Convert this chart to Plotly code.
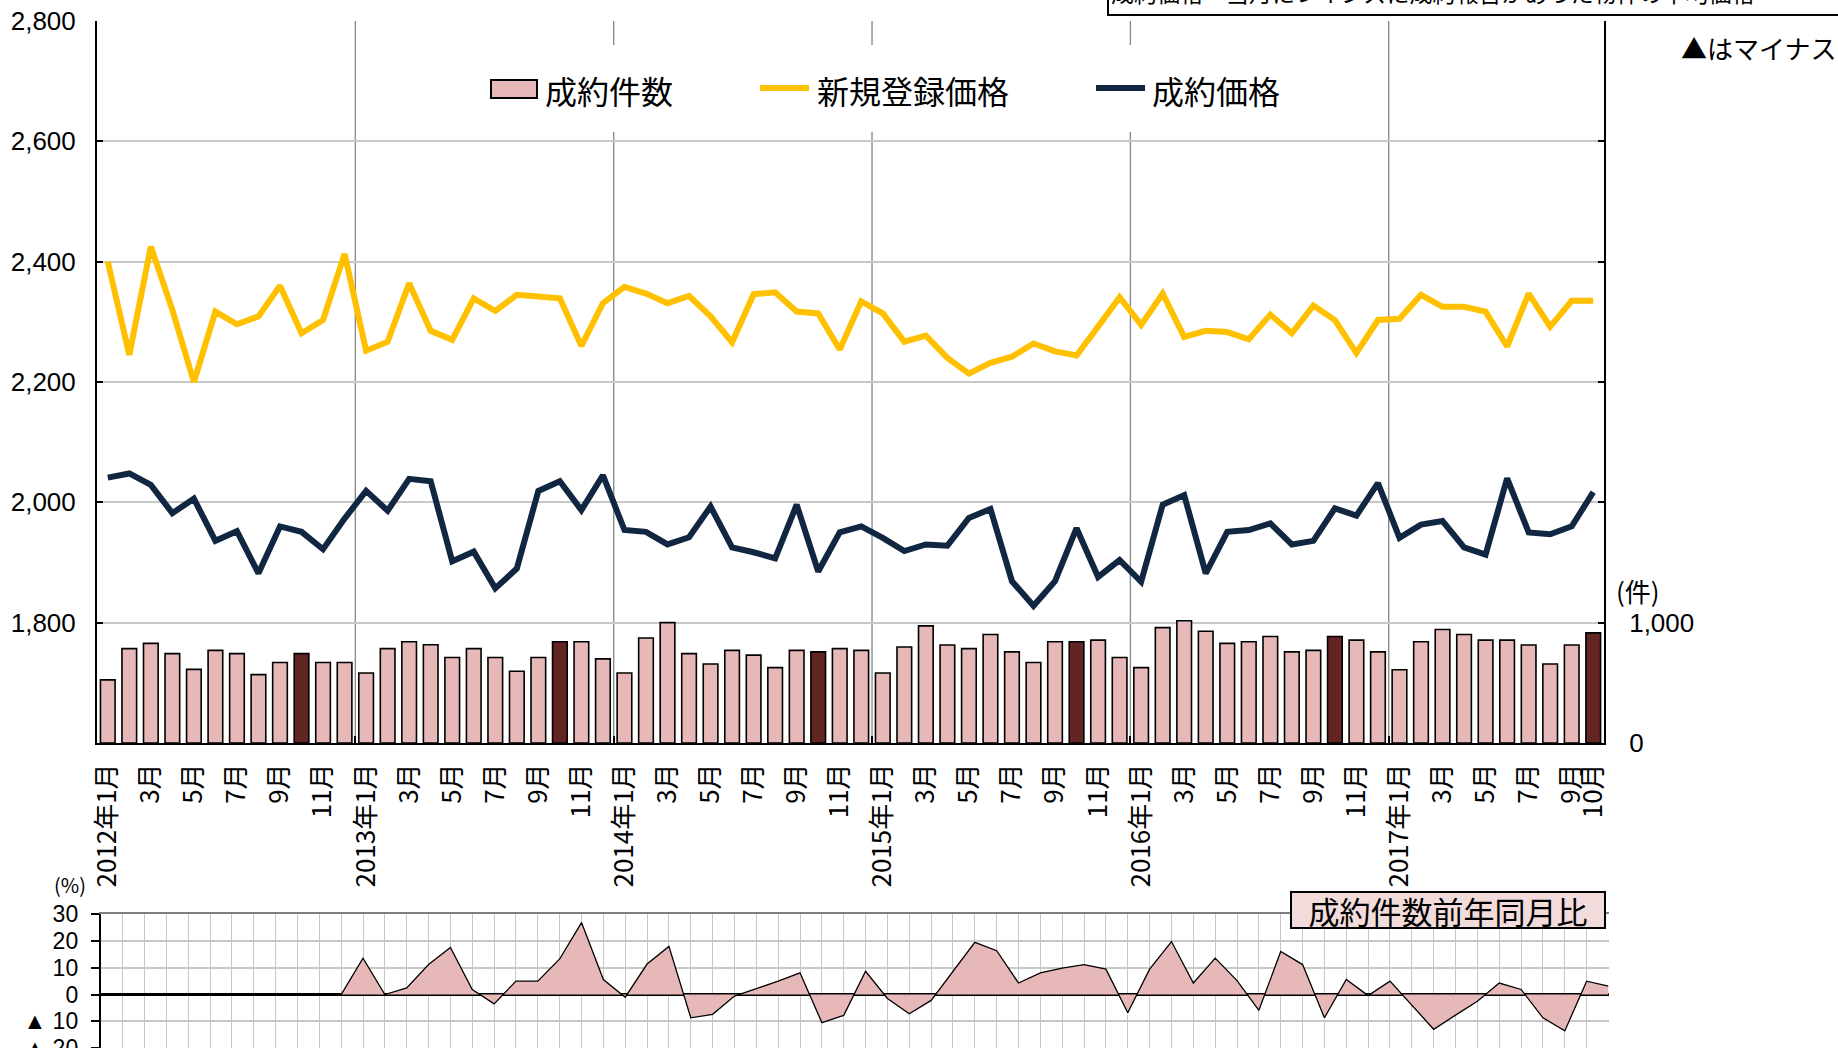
import plotly.graph_objects as go

# ---- data -------------------------------------------------------------
years = [2012] * 12 + [2013] * 12 + [2014] * 12 + [2015] * 12 + [2016] * 12 + [2017] * 10
months = list(range(1, 13)) * 5 + list(range(1, 11))

# 成約件数 (件)
deal_counts = [
    525, 784, 828, 743, 612, 770, 743, 568, 669, 743, 669, 669,
    582, 784, 842, 817, 710, 784, 710, 596, 710, 842, 842, 699,
    582, 872, 1000, 743, 656, 770, 730, 626, 770, 757, 784, 770,
    582, 798, 973, 814, 784, 902, 757, 669, 842, 842, 855, 710,
    626, 959, 1016, 929, 828, 842, 885, 757, 770, 885, 855, 757,
    609, 842, 943, 902, 855, 855, 814, 656, 814, 915,
]

# 新規登録価格 (万円)
listing_price = [
    2400, 2245, 2425, 2320, 2200, 2317, 2296, 2309, 2360, 2281, 2303, 2413,
    2252, 2267, 2364, 2285, 2270, 2339, 2318, 2345, 2342, 2339, 2260, 2331,
    2358, 2347, 2331, 2343, 2309, 2266, 2346, 2349, 2317, 2314, 2254, 2334,
    2314, 2267, 2277, 2240, 2214, 2232, 2242, 2264, 2251, 2244, 2292, 2341,
    2295, 2347, 2275, 2285, 2283, 2271, 2312, 2281, 2327, 2303, 2248, 2303,
    2305, 2345, 2325, 2325, 2317, 2259, 2347, 2292, 2335, 2335,
]

# 成約価格 (万円)
deal_price = [
    2041, 2048, 2029, 1982, 2006, 1936, 1952, 1882, 1960, 1951, 1922, 1973,
    2019, 1986, 2039, 2035, 1902, 1918, 1857, 1890, 2019, 2035, 1987, 2045,
    1954, 1951, 1930, 1942, 1993, 1925, 1917, 1907, 1996, 1885, 1950, 1960,
    1941, 1919, 1930, 1928, 1974, 1989, 1869, 1828, 1869, 1957, 1876, 1904,
    1868, 1996, 2012, 1882, 1951, 1954, 1965, 1930, 1936, 1990, 1978, 2032,
    1941, 1963, 1969, 1925, 1913, 2040, 1950, 1947, 1960, 2017,
]

# 成約件数前年同月比 (%)
yoy_change = [
    0, 0, 0, 0, 0, 0, 0, 0, 0, 0, 0, 0,
    13.6, 0.0, 2.5, 11.2, 17.6, 1.9, -3.5, 5.0, 5.0, 13.3, 26.9, 5.6,
    -1.0, 11.4, 18.0, -8.7, -7.4, -0.6, 2.2, 5.0, 8.1, -10.5, -7.8, 8.7,
    -1.5, -7.2, -2.2, 8.7, 19.5, 16.4, 4.3, 8.1, 9.9, 11.2, 9.5, -6.8,
    9.5, 19.8, 4.3, 13.6, 5.2, -5.9, 16.1, 11.2, -8.7, 5.6, -0.4, 5.0,
    -3.8, -13.0, -7.7, -2.5, 4.3, 1.9, -8.7, -13.6, 5.0, 3.1,
]

price_ticks = [1800, 2000, 2200, 2400, 2600, 2800]
count_ticks = [0, 1000, 2000, 3000, 4000, 5000, 6000]
count_ticktext = ["0", "1,000", "", "", "", "", ""]
yoy_ticks = [-20, -10, 0, 10, 20, 30]
yoy_ticktext = ["▲ 20", "▲ 10", "0", "10", "20", "30"]

# ---- derived ----------------------------------------------------------
n = len(deal_counts)
idx = list(range(n))
labels = [f"{y}年{m}月" if m == 1 else f"{m}月" for y, m in zip(years, months)]
tick_idx = [i for i in idx if i % 2 == 0 or i == n - 1]
year_starts = [i for i in idx if months[i] == 1 and i > 0]
bar_colors = ["#632523" if m == 10 else "#E6B9B8" for m in months]

W, H = 1838, 1048
JP = "Noto Sans CJK JP"
NUM = "Liberation Sans, Noto Sans CJK JP"

PRICE_RANGE = [1600, 2800]
X_RANGE = [-0.5, n - 0.5]


def px(x):
    return x / W


def py(y):
    return 1 - y / H


TOP_L, TOP_R, TOP_T, TOP_B = 97, 1604, 21, 743
BOT_L, BOT_R, BOT_T = 100.8, 1608.5, 914.3


def data_x(p):
    """pixel column -> position on the month axis of the upper panel"""
    return X_RANGE[0] + (p - TOP_L) / (TOP_R - TOP_L) * (X_RANGE[1] - X_RANGE[0])


def data_y(p):
    """pixel row -> price value of the upper panel"""
    return PRICE_RANGE[1] - (p - TOP_T) / (TOP_B - TOP_T) * (PRICE_RANGE[1] - PRICE_RANGE[0])


fig = go.Figure()

fig.add_trace(go.Bar(
    x=idx, y=deal_counts, yaxis="y2", name="成約件数",
    marker=dict(color=bar_colors, line=dict(color="black", width=1.6)),
))
fig.add_trace(go.Scatter(
    x=idx, y=listing_price, mode="lines", name="新規登録価格",
    line=dict(color="#FFC000", width=6),
))
fig.add_trace(go.Scatter(
    x=idx, y=deal_price, mode="lines", name="成約価格",
    line=dict(color="#112641", width=6),
))
fig.add_trace(go.Scatter(
    x=idx, y=yoy_change, xaxis="x2", yaxis="y3", mode="lines",
    name="成約件数前年同月比", fill="tozeroy", fillcolor="#E6B9B8",
    line=dict(color="black", width=1.3),
))

shapes = []
# year separators in the upper panel
for s in year_starts:
    shapes.append(dict(type="line", xref="x", yref="y domain",
                       x0=s - 0.5, x1=s - 0.5, y0=0, y1=1,
                       line=dict(color="#8C8C8C", width=1.4), layer="below"))
# white panel behind the legend entries (interrupts the separators)
shapes.append(dict(type="rect", xref="x", yref="y",
                   x0=data_x(469), x1=data_x(1301), y0=data_y(132), y1=data_y(45),
                   fillcolor="white", line=dict(width=0), layer="below"))
# legend symbols
shapes += [
    dict(type="rect", xref="paper", yref="paper",
         x0=px(491), x1=px(537), y0=py(98), y1=py(80),
         fillcolor="#E6B9B8", line=dict(color="black", width=2)),
    dict(type="line", xref="paper", yref="paper",
         x0=px(760), x1=px(809), y0=py(88), y1=py(88),
         line=dict(color="#FFC000", width=6)),
    dict(type="line", xref="paper", yref="paper",
         x0=px(1096), x1=px(1145), y0=py(88), y1=py(88),
         line=dict(color="#112641", width=6)),
    # note box at the top right
    dict(type="rect", xref="paper", yref="paper",
         x0=px(1108), x1=1.02, y0=py(15), y1=1.05,
         fillcolor="white", line=dict(color="black", width=2)),
]

annotations = [
    dict(text="成約件数", x=px(543), y=py(90), xanchor="left", yanchor="middle",
         font=dict(size=32, family=JP)),
    dict(text="新規登録価格", x=px(815), y=py(90), xanchor="left", yanchor="middle",
         font=dict(size=32, family=JP)),
    dict(text="成約価格", x=px(1150), y=py(90), xanchor="left", yanchor="middle",
         font=dict(size=32, family=JP)),
    dict(text="成約価格＝当月にレインズに成約報告があった物件の平均価格",
         x=px(1433), y=py(-8), xanchor="center", yanchor="middle",
         font=dict(size=23, family=JP)),
    dict(text="▲はマイナス", x=1.0, y=py(47), xanchor="right", yanchor="middle",
         font=dict(size=26, family=JP)),
    dict(text="(件)", x=px(1638), y=py(590), xanchor="center", yanchor="middle",
         font=dict(size=26, family=JP)),
    dict(text="(%)", x=px(70), y=py(884), xanchor="center", yanchor="middle",
         font=dict(size=20, family=JP)),
    dict(text="成約件数前年同月比", x=px(1606), y=py(910), xanchor="right", yanchor="middle",
         width=312, height=34, borderpad=0, bgcolor="#F2DCDB",
         bordercolor="black", borderwidth=2, font=dict(size=31, family=JP)),
]
for a in annotations:
    a.setdefault("xref", "paper")
    a.setdefault("yref", "paper")
    a.setdefault("showarrow", False)

fig.update_layout(
    width=W, height=H,
    margin=dict(l=0, r=0, t=0, b=0, autoexpand=False),
    paper_bgcolor="white", plot_bgcolor="white",
    showlegend=False, bargap=0.32,
    font=dict(family=JP, size=24, color="black"),
    shapes=shapes, annotations=annotations,
    xaxis=dict(
        domain=[px(TOP_L), px(TOP_R)], anchor="y", automargin=False,
        range=X_RANGE, tickmode="array", tickvals=tick_idx,
        ticktext=[labels[i] for i in tick_idx], tickangle=-90,
        tickfont=dict(size=26, family=JP), ticklabelstandoff=8,
        showgrid=False, zeroline=False, ticks="",
        showline=True, linecolor="black", linewidth=2,
        minor=dict(tickmode="array", tickvals=[i - 0.5 for i in year_starts],
                   showgrid=False, ticks="inside", ticklen=7,
                   tickcolor="black", tickwidth=1.5),
    ),
    yaxis=dict(
        domain=[py(TOP_B), py(TOP_T)], anchor="x", automargin=False,
        range=PRICE_RANGE, tickmode="array", tickvals=price_ticks,
        tickformat=",", tickfont=dict(size=26, family=NUM),
        showgrid=True, gridcolor="#C8C8C8", gridwidth=2, zeroline=False,
        showline=True, linecolor="black", linewidth=2,
        ticks="inside", ticklen=6, tickwidth=2, tickcolor="black",
        ticklabelstandoff=14,
    ),
    yaxis2=dict(
        overlaying="y", side="right", anchor="x", automargin=False,
        range=[0, 6000], tickmode="array", tickvals=count_ticks,
        ticktext=count_ticktext, tickfont=dict(size=26, family=NUM),
        showgrid=False, zeroline=False,
        showline=True, linecolor="black", linewidth=2,
        ticks="inside", ticklen=6, tickwidth=2, tickcolor="black",
        ticklabelstandoff=18,
    ),
    xaxis2=dict(
        domain=[px(BOT_L), px(BOT_R)], anchor="y3", automargin=False,
        range=[0, n - 1], tickmode="linear", tick0=0, dtick=1,
        showticklabels=False, ticks="",
        showgrid=True, gridcolor="#C8C8C8", gridwidth=1.3, zeroline=False,
        showline=True, mirror=True, linecolor="#808080", linewidth=1.5,
    ),
    yaxis3=dict(
        domain=[0, py(BOT_T)], anchor="x2", automargin=False,
        range=[-20, 30], tickmode="array", tickvals=yoy_ticks,
        ticktext=yoy_ticktext, tickfont=dict(size=23, family=NUM),
        ticklabeloverflow="allow",
        showgrid=True, gridcolor="#C8C8C8", gridwidth=2,
        zeroline=True, zerolinecolor="black", zerolinewidth=2.5,
        showline=True, linecolor="black", linewidth=2,
        ticks="outside", ticklen=8, tickwidth=1.5, tickcolor="black",
        ticklabelstandoff=8,
    ),
)

fig.write_html("out.html")
